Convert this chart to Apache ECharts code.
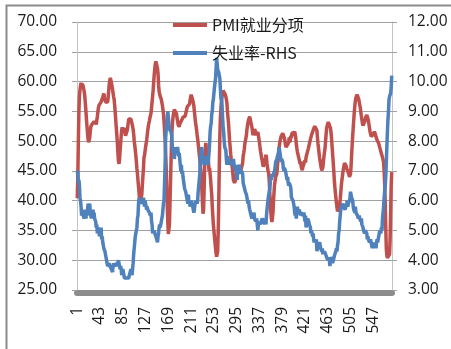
<!DOCTYPE html>
<html>
<head>
<meta charset="utf-8">
<script src="https://cdn.jsdelivr.net/npm/echarts@6/dist/echarts.min.js"></script>
<style>
  html, body { margin: 0; padding: 0; background: #ffffff; }
  #chart { width: 451px; height: 349px; }
</style>
</head>
<body>
<div id="chart"></div>
<script>
// ISM manufacturing employment index (left axis), monthly
const pmiEmployment = [
  40.4, 44, 50, 55, 57.5, 58.6, 59.3, 59.8, 59.2, 59.6,
  59.8, 59.2, 59, 58.2, 57.4, 56.2, 55, 53.6, 52.4, 51.2,
  50.3, 49.8, 49.7, 50.6, 51.7, 52.4, 52.2, 52.8, 53.1, 52.7,
  53, 53.3, 52.9, 53.4, 53.2, 52.8, 53.5, 54.1, 54.9, 55.6,
  56, 55.8, 56.3, 56.2, 56.6, 56.4, 56.9, 57.4, 57.6, 58,
  57.5, 57, 56.6, 56.4, 56.7, 56.3, 56.5, 57.3, 58.5, 59.6,
  60.2, 60.6, 60.3, 59.8, 59.3, 58.7, 58.1, 57.5, 57, 56,
  54.8, 53.5, 52.2, 51, 49.6, 48, 46.6, 46.2, 47, 48.4,
  49.6, 50.9, 51.9, 52.3, 52, 51.6, 52.2, 52, 51.4, 50.9,
  50.7, 51.1, 51.8, 52.3, 53.1, 53.7, 54, 53.8, 53.4, 53.7,
  53.3, 52.9, 52.5, 52, 51.2, 50.1, 49.3, 48.5, 47.6, 46.5,
  45.4, 44.5, 43.4, 42.3, 41.2, 40.3, 39.6, 39.3, 39.8, 41,
  42.6, 44, 45.3, 47.2, 47.6, 48.3, 49, 49.6, 50.2, 51,
  51.8, 52.5, 53, 53.4, 53.9, 54.3, 54.7, 55.6, 56.6, 57.6,
  58.6, 60, 61.2, 62.2, 63, 63.4, 63.7, 63.2, 62.2, 61.3,
  59.4, 58.3, 57.9, 57.5, 57.3, 57, 56.8, 56, 55.3, 54.6,
  53.4, 51.8, 50.2, 48, 45.6, 42.5, 39.2, 36.3, 34.4, 34.1,
  36, 39.5, 43.2, 46.8, 50.1, 52.3, 53.5, 54.3, 54.9, 55.3,
  55.5, 55.6, 55.2, 54.6, 53.9, 53.4, 52.8, 52.5, 52.4, 52.9,
  53.2, 53, 53.4, 53.7, 53.6, 54, 54.2, 54.1, 53.8, 54.2,
  54.6, 55, 55.4, 55.8, 56, 55.7, 55.5, 56.2, 56.8, 57.3,
  57.8, 57.6, 57.2, 56.9, 56.5, 55.9, 55, 54.1, 53.2, 52.6,
  51.9, 51.1, 50.4, 49.6, 48.7, 47.8, 46.9, 46, 44.8, 43.5,
  41.5, 39.5, 37.8, 38.5, 42, 46, 48.5, 49.7, 49, 48.5,
  49, 48, 46.5, 45, 45.5, 44.5, 43.5, 42.1, 41, 39,
  37.5, 36, 35, 34, 33, 32, 31.2, 30.6, 30.4, 31.5,
  35, 40, 46, 51, 54, 55.5, 57, 57.5, 58, 58.5,
  58.3, 58.5, 58, 58.2, 57.5, 57, 56.4, 55, 54, 53,
  51.5, 50, 49, 47.8, 47, 46.3, 45.5, 44.5, 43.5, 43.2,
  43, 42.7, 43.5, 44.2, 44.7, 45, 44.8, 45.5, 45, 45.2,
  45.4, 44.8, 45, 44.6, 45, 46.3, 47.5, 48, 48.6, 49.5,
  50, 50.5, 51, 52, 52.6, 53.2, 53.6, 53.8, 54.1, 54.3,
  54.4, 54, 52.4, 51.8, 51, 50.7, 51.5, 52, 52.2, 51.5,
  51, 50.7, 51.2, 51.5, 51, 50.4, 49.8, 49, 48.3, 47.8,
  47.2, 46.8, 46.2, 45.7, 45.9, 46.4, 46.8, 47.2, 47.7, 47.2,
  46.2, 45.5, 45, 44.6, 43.5, 41.5, 39.8, 38.2, 37, 36.4,
  36.6, 38, 40.1, 41.5, 42.8, 43.4, 44, 44.3, 44.5, 45.5,
  46.8, 47.7, 48.6, 49.4, 50, 50.4, 50.8, 51, 51.1, 51.3,
  51.1, 51, 50.5, 50, 49.4, 49, 48.8, 48.8, 49.2, 49.6,
  50, 50.6, 49.8, 50.2, 50.9, 50.5, 51.4, 50.9, 51.6, 51.2,
  51.5, 51.6, 51.4, 50.6, 49.5, 48.8, 48.2, 47.8, 47.4, 47,
  46.8, 46.2, 46.6, 45.7, 45.9, 45.1, 45.6, 45.3, 46.2, 45.9,
  46.8, 46.4, 47.3, 47.1, 48, 47.9, 48.7, 48.6, 49.5, 49.5,
  50.3, 50.2, 51, 50.8, 51.5, 51.4, 52.1, 51.9, 52.5, 52.2,
  52.3, 52.2, 51.8, 50.6, 49.6, 48.8, 48, 47.2, 46.6, 46,
  45.5, 45.1, 44.9, 45.6, 46.6, 47.4, 48.2, 48.8, 50, 51.2,
  52.2, 52.6, 52.9, 53.2, 53.4, 53.3, 52.9, 52.2, 51.5, 50.4,
  49.1, 47.8, 46.5, 45.2, 43.6, 42.4, 41.4, 40.5, 39.6, 38.9,
  38.2, 37.9, 38.1, 38.7, 39.4, 40.2, 41.3, 42.5, 43.4, 44.1,
  44.8, 45.4, 45.9, 46.3, 46.6, 46.3, 45.8, 45.4, 45.1, 44.9,
  44.8, 44.4, 44, 43.8, 44.5, 45.8, 47.6, 49.3, 50.9, 52.3,
  53.6, 54.9, 56, 56.8, 57.3, 57.6, 57.8, 57.9, 57.6, 57.1,
  56.6, 56.1, 55.6, 54.9, 54.2, 53.6, 53, 52.6, 52.4, 52.8,
  53.2, 53.6, 54, 54.2, 54.4, 54.1, 53.8, 53.4, 52.8, 52.2,
  51.6, 51.2, 50.8, 50.5, 50.6, 50.9, 51.1, 51.4, 51.6, 51.5,
  51.1, 50.7, 50.4, 50.2, 50, 49.9, 49.6, 49.3, 48.9, 48.6,
  48.2, 47.9, 47.6, 47.3, 46.9, 46.4, 45, 42.8, 39.8, 35.5,
  32, 30.8, 30.4, 30.6, 30.5, 30.7, 31, 33.5, 38, 42.5,
  44.8
];

// Unemployment rate, % (right axis), monthly
const unemploymentRate = [
  6.9, 7.0, 6.6, 6.7, 6.5, 6.1, 6.0,
  5.8, 5.5, 5.6, 5.6, 5.5, 5.5, 5.4, 5.7, 5.6, 5.4, 5.7, 5.5,
  5.7, 5.9, 5.7, 5.7, 5.9, 5.6, 5.6, 5.4, 5.5, 5.5, 5.7, 5.5,
  5.6, 5.4, 5.4, 5.3, 5.1, 5.2, 4.9, 5.0, 5.1, 5.1, 4.8, 5.0,
  4.9, 5.1, 4.7, 4.8, 4.6, 4.6, 4.4, 4.4, 4.3, 4.2, 4.1, 4.0,
  4.0, 3.8, 3.8, 3.8, 3.9, 3.8, 3.8, 3.8, 3.7, 3.7, 3.6, 3.8,
  3.9, 3.8, 3.8, 3.8, 3.8, 3.9, 3.8, 3.8, 3.8, 4.0, 3.9, 3.8,
  3.7, 3.8, 3.7, 3.5, 3.5, 3.7, 3.7, 3.5, 3.4, 3.4, 3.4, 3.4,
  3.4, 3.4, 3.4, 3.4, 3.4, 3.5, 3.5, 3.5, 3.7, 3.7, 3.5, 3.5,
  3.9, 4.2, 4.4, 4.6, 4.8, 4.9, 5.0, 5.1, 5.4, 5.5, 5.9, 6.1,
  5.9, 5.9, 6.0, 5.9, 5.9, 5.9, 6.0, 6.1, 6.0, 5.8, 6.0, 6.0,
  5.8, 5.7, 5.8, 5.7, 5.7, 5.7, 5.6, 5.6, 5.5, 5.6, 5.3, 5.2,
  4.9, 5.0, 4.9, 5.0, 4.9, 4.9, 4.8, 4.8, 4.8, 4.6, 4.8, 4.9,
  5.1, 5.2, 5.1, 5.1, 5.1, 5.4, 5.5, 5.5, 5.9, 6.0, 6.6, 7.2,
  8.1, 8.1, 8.6, 8.8, 9.0, 8.8, 8.6, 8.4, 8.4, 8.4, 8.3, 8.2,
  7.9, 7.7, 7.6, 7.7, 7.4, 7.6, 7.8, 7.8, 7.6, 7.7, 7.8, 7.8,
  7.5, 7.6, 7.4, 7.2, 7.0, 7.2, 6.9, 7.0, 6.8, 6.8, 6.8, 6.4,
  6.4, 6.3, 6.3, 6.1, 6.0, 5.9, 6.2, 5.9, 6.0, 5.8, 5.9, 6.0,
  5.9, 5.9, 5.8, 5.8, 5.6, 5.7, 5.7, 6.0, 5.9, 6.0, 5.9, 6.0,
  6.3, 6.3, 6.3, 6.9, 7.5, 7.6, 7.8, 7.7, 7.5, 7.5, 7.5, 7.2,
  7.5, 7.4, 7.4, 7.2, 7.5, 7.5, 7.2, 7.4, 7.6, 7.9, 8.3, 8.5,
  8.6, 8.9, 9.0, 9.3, 9.4, 9.6, 9.8, 9.8, 10.1, 10.4, 10.8, 10.8,
  10.4, 10.4, 10.3, 10.2, 10.1, 10.1, 9.4, 9.5, 9.2, 8.8, 8.5, 8.3,
  8.0, 7.8, 7.8, 7.7, 7.4, 7.2, 7.5, 7.5, 7.3, 7.4, 7.2, 7.3,
  7.3, 7.2, 7.2, 7.3, 7.2, 7.4, 7.4, 7.1, 7.1, 7.1, 7.0, 7.0,
  6.7, 7.2, 7.2, 7.1, 7.2, 7.2, 7.0, 6.9, 7.0, 7.0, 6.9, 6.6,
  6.6, 6.6, 6.6, 6.3, 6.3, 6.2, 6.1, 6.0, 5.9, 6.0, 5.8, 5.7,
  5.7, 5.7, 5.7, 5.4, 5.6, 5.4, 5.4, 5.6, 5.4, 5.4, 5.3, 5.3,
  5.4, 5.2, 5.0, 5.2, 5.2, 5.3, 5.2, 5.2, 5.3, 5.3, 5.4, 5.4,
  5.4, 5.3, 5.2, 5.4, 5.4, 5.2, 5.5, 5.7, 5.9, 5.9, 6.2, 6.3,
  6.4, 6.6, 6.8, 6.7, 6.9, 6.9, 6.8, 6.9, 6.9, 7.0, 7.0, 7.3,
  7.3, 7.4, 7.4, 7.4, 7.6, 7.8, 7.7, 7.6, 7.6, 7.3, 7.4, 7.4,
  7.3, 7.1, 7.0, 7.1, 7.1, 7.0, 6.9, 6.8, 6.7, 6.8, 6.6, 6.5,
  6.6, 6.6, 6.5, 6.4, 6.1, 6.1, 6.1, 6.0, 5.9, 5.8, 5.6, 5.5,
  5.6, 5.4, 5.4, 5.8, 5.6, 5.6, 5.7, 5.7, 5.6, 5.5, 5.6, 5.6,
  5.6, 5.5, 5.5, 5.6, 5.6, 5.3, 5.5, 5.1, 5.2, 5.2, 5.4, 5.4,
  5.3, 5.2, 5.2, 5.1, 4.9, 5.0, 4.9, 4.8, 4.9, 4.7, 4.6, 4.7,
  4.6, 4.6, 4.7, 4.3, 4.4, 4.5, 4.5, 4.5, 4.6, 4.5, 4.4, 4.4,
  4.3, 4.4, 4.2, 4.3, 4.2, 4.3, 4.3, 4.2, 4.2, 4.1, 4.1, 4.0,
  4.0, 4.1, 4.0, 3.8, 4.0, 4.0, 4.0, 4.1, 3.9, 3.9, 3.9, 3.9,
  4.2, 4.2, 4.3, 4.4, 4.3, 4.5, 4.6, 4.9, 5.0, 5.3, 5.5, 5.7,
  5.7, 5.7, 5.7, 5.9, 5.8, 5.8, 5.8, 5.7, 5.7, 5.7, 5.9, 6.0,
  5.8, 5.9, 5.9, 6.0, 6.1, 6.3, 6.2, 6.1, 6.1, 6.0, 5.8, 5.7,
  5.7, 5.6, 5.8, 5.6, 5.6, 5.6, 5.5, 5.4, 5.4, 5.5, 5.4, 5.4,
  5.3, 5.4, 5.2, 5.2, 5.1, 5.0, 5.0, 4.9, 5.0, 5.0, 5.0, 4.9,
  4.7, 4.8, 4.7, 4.7, 4.6, 4.6, 4.7, 4.7, 4.5, 4.4, 4.5, 4.4,
  4.6, 4.5, 4.4, 4.5, 4.4, 4.6, 4.7, 4.6, 4.7, 4.7, 4.7, 5.0,
  5.0, 4.9, 5.1, 5.0, 5.4, 5.6, 5.8, 6.1, 6.1, 6.5, 6.8, 7.3,
  7.8, 8.3, 8.7, 9.0, 9.4, 9.5, 9.5, 9.6, 9.8, 10.2
];

// Category labels are the running month number 1..N
const monthNumbers = pmiEmployment.map((_, i) => String(i + 1));

const seriesNames = ['PMI就业分项', '失业率-RHS'];
const leftTicks = { min: 25, max: 70, step: 5 };
const rightTicks = { min: 3, max: 12, step: 1 };

const gridColor = '#a0a0a0';
const axisColor = '#c4c4c4';
const textColor = '#1a1a1a';
const numFont = 'Open Sans';

const chart = echarts.init(document.getElementById('chart'), null, { renderer: 'canvas' });

chart.setOption({
  animation: false,
  backgroundColor: '#ffffff',
  graphic: [{
    type: 'rect',
    silent: true,
    shape: { x: 6.5, y: 5.5, width: 600, height: 600 },
    style: { fill: 'none', stroke: '#8c8c8c', lineWidth: 2 }
  }],
  grid: { left: 77, right: 59, top: 22, bottom: 59, outerBoundsMode: 'none', containLabel: false },
  legend: {
    orient: 'vertical',
    left: 168,
    top: 12,
    padding: 5,
    itemWidth: 34,
    itemHeight: 4,
    itemGap: 12,
    icon: 'rect',
    textStyle: { fontFamily: 'Noto Sans CJK SC', fontSize: 16, color: textColor },
    data: seriesNames
  },
  xAxis: {
    type: 'category',
    data: monthNumbers,
    boundaryGap: true,
    offset: 3,
    axisLine: { show: true, lineStyle: { color: '#8c8c8c', width: 6 } },
    axisTick: { show: false },
    splitLine: { show: false },
    axisLabel: {
      interval: 41,
      rotate: 90,
      margin: 14,
      fontFamily: numFont,
      fontSize: 15.5,
      color: textColor
    }
  },
  yAxis: [{
    type: 'value',
    position: 'left',
    min: leftTicks.min,
    max: leftTicks.max,
    interval: leftTicks.step,
    axisLine: { show: true, lineStyle: { color: axisColor, width: 1 } },
    axisTick: { show: true, length: 5, lineStyle: { color: gridColor } },
    splitLine: { show: true, lineStyle: { color: gridColor, width: 1 } },
    axisLabel: {
      margin: 20,
      fontFamily: numFont,
      fontSize: 15.5,
      color: textColor,
      formatter: v => v.toFixed(2)
    }
  }, {
    type: 'value',
    position: 'right',
    min: rightTicks.min,
    max: rightTicks.max,
    interval: rightTicks.step,
    axisLine: { show: true, lineStyle: { color: axisColor, width: 1 } },
    axisTick: { show: true, length: 5, lineStyle: { color: gridColor } },
    splitLine: { show: false },
    axisLabel: {
      margin: 16,
      fontFamily: numFont,
      fontSize: 15.5,
      color: textColor,
      formatter: v => v.toFixed(2)
    }
  }],
  series: [{
    name: seriesNames[0],
    type: 'line',
    yAxisIndex: 0,
    data: pmiEmployment,
    symbol: 'none',
    lineStyle: { width: 3.5, color: '#C0504D' },
    itemStyle: { color: '#C0504D' }
  }, {
    name: seriesNames[1],
    type: 'line',
    yAxisIndex: 1,
    data: unemploymentRate,
    symbol: 'none',
    lineStyle: { width: 3.5, color: '#4F81BD' },
    itemStyle: { color: '#4F81BD' }
  }]
});
</script>
</body>
</html>
